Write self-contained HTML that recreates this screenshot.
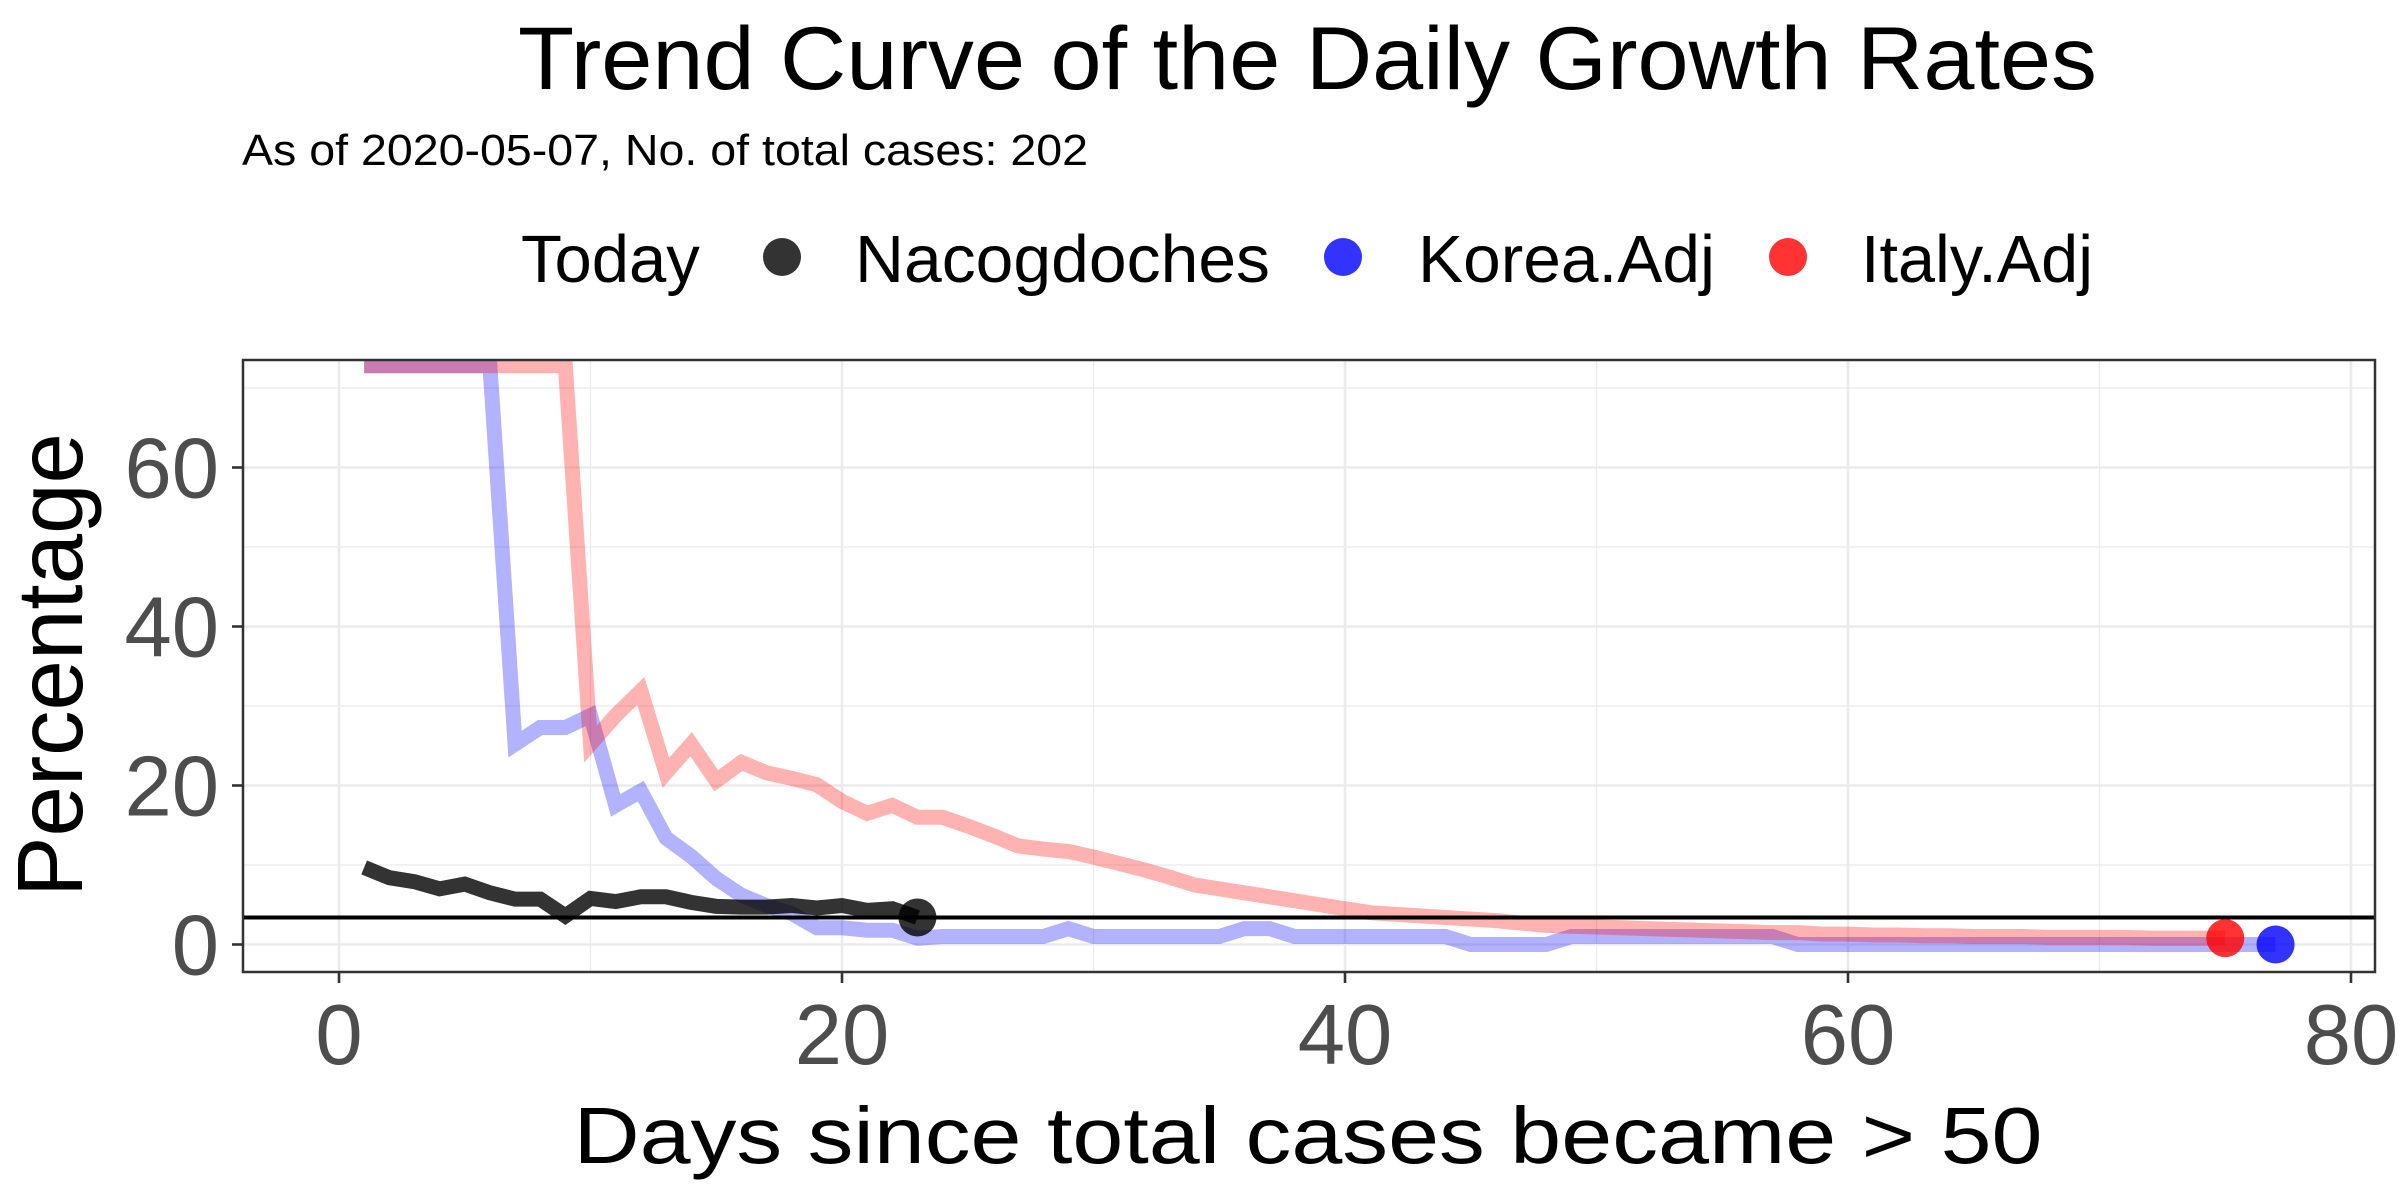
<!DOCTYPE html>
<html><head><meta charset="utf-8">
<style>
html,body{margin:0;padding:0;background:#fff;}
svg{display:block;font-family:"Liberation Sans",Arial,sans-serif;}
</style></head>
<body>
<svg id="chart" width="2400" height="1200" viewBox="0 0 2400 1200" xmlns="http://www.w3.org/2000/svg">
  <text x="518" y="89" font-size="89" textLength="1579" lengthAdjust="spacingAndGlyphs" fill="#000">Trend Curve of the Daily Growth Rates</text>
  <text x="242" y="165" font-size="44" textLength="846" lengthAdjust="spacingAndGlyphs" fill="#000">As of 2020-05-07, No. of total cases: 202</text>
  <g>
    <text x="521" y="282" font-size="67" fill="#000">Today</text>
    <g>
      <circle cx="782" cy="257" r="19" fill="#000" fill-opacity="0.8"/>
      <text x="855" y="282" font-size="67" textLength="415" lengthAdjust="spacingAndGlyphs">Nacogdoches</text>
    </g>
    <g>
      <circle cx="1343" cy="257" r="19" fill="#0000ff" fill-opacity="0.8"/>
      <text x="1418" y="282" font-size="67" textLength="297" lengthAdjust="spacingAndGlyphs">Korea.Adj</text>
    </g>
    <g>
      <circle cx="1788" cy="257" r="19" fill="#ff0000" fill-opacity="0.8"/>
      <text x="1861" y="282" font-size="67" textLength="232" lengthAdjust="spacingAndGlyphs">Italy.Adj</text>
    </g>
  </g>
  <defs><clipPath id="pclip"><rect x="243" y="360" width="2132" height="612"/></clipPath></defs>
  <g id="grid"></g>
  <g id="series" clip-path="url(#pclip)"></g>
  <rect x="243" y="360" width="2132" height="612" fill="none" stroke="#333" stroke-width="2.5"/>
  <g id="axes"></g>
  <text x="1308" y="1163" font-size="80" text-anchor="middle" textLength="1469" lengthAdjust="spacingAndGlyphs">Days since total cases became &gt; 50</text>
  <text x="0" y="0" font-size="93" text-anchor="middle" transform="translate(82,665) rotate(-90)" textLength="464" lengthAdjust="spacingAndGlyphs">Percentage</text>
</svg>
<script>
const xTicks = [0, 20, 40, 60, 80];
const xMinor = [10, 30, 50, 70];
const yTicks = [0, 20, 40, 60];
const yMinor = [10, 30, 50, 70];
const refValue = 3.4;
const nacDays = [1,2,3,4,5,6,7,8,9,10,11,12,13,14,15,16,17,18,19,20,21,22,23];
const nacValues = [9.7,8.4,7.9,7.0,7.6,6.5,5.7,5.7,3.6,5.8,5.4,6.0,6.0,5.3,4.8,4.7,4.7,4.9,4.6,4.9,4.3,4.5,3.4];
const koreaValues = [72.8,72.8,72.8,72.8,72.8,72.8,25.2,27.3,27.3,28.8,17.5,19.3,13.4,11.1,8.3,6.2,4.9,3.9,2.1,2.1,1.8,1.8,0.8,1,1,1,1,1,2,1,1,1,1,1,1,2,2,1,1,1,1,1,1,1,0,0,0,0,1,1,1,1,1,1,1,1,1,0,0,0,0,0,0,0,0,0,0,0,0,0,0,0,0,0,0,0,0];
const italyValues = [72.8,72.8,72.8,72.8,72.8,72.8,72.8,72.8,72.8,25.2,28.8,31.9,21.6,25.2,20.6,22.9,21.6,20.9,20.1,18.0,16.5,17.5,16.0,16.0,14.9,13.7,12.4,12.0,11.7,11.0,10.2,9.4,8.5,7.5,7.0,6.5,6.0,5.5,5.0,4.5,4.0,3.8,3.6,3.4,3.2,3.0,2.7,2.4,2.3,2.2,2.1,2.0,1.9,1.8,1.7,1.6,1.5,1.5,1.3,1.3,1.2,1.2,1.1,1.1,1.0,1.0,1.0,0.9,0.9,0.9,0.9,0.8,0.8,0.8,0.8];

const NS = 'http://www.w3.org/2000/svg';
const X = d => 339 + d * 25.15;
const Y = v => 944.5 - v * 7.95;
const PL = 243, PR = 2375, PT = 360, PB = 972;
function mk(tag, attrs, parent) {
  const e = document.createElementNS(NS, tag);
  for (const k in attrs) e.setAttribute(k, attrs[k]);
  parent.appendChild(e);
  return e;
}
const grid = document.getElementById('grid');
const axes = document.getElementById('axes');
const series = document.getElementById('series');

yMinor.forEach(v => {
  const l = mk('line', {x1: PL, x2: PR, y1: Y(v), y2: Y(v), stroke: '#ebebeb', 'stroke-width': 1.3}, grid);
  
  
});
xMinor.forEach(d => {
  const l = mk('line', {x1: X(d), x2: X(d), y1: PT, y2: PB, stroke: '#ebebeb', 'stroke-width': 1.3}, grid);
  
  
});
yTicks.forEach(v => {
  const l = mk('line', {x1: PL, x2: PR, y1: Y(v), y2: Y(v), stroke: '#ebebeb', 'stroke-width': 2.6}, grid);
  
  
  const t = mk('line', {x1: PL - 11, x2: PL, y1: Y(v), y2: Y(v), stroke: '#333', 'stroke-width': 2.6}, axes);
  
  
  const tx = mk('text', {x: 219, y: Y(v) + 30, 'font-size': 85, 'text-anchor': 'end', fill: '#4d4d4d'}, axes);
  tx.textContent = String(v);
  
  
});
xTicks.forEach(d => {
  const l = mk('line', {x1: X(d), x2: X(d), y1: PT, y2: PB, stroke: '#ebebeb', 'stroke-width': 2.6}, grid);
  
  
  const t = mk('line', {x1: X(d), x2: X(d), y1: PB, y2: PB + 11, stroke: '#333', 'stroke-width': 2.6}, axes);
  
  
  const tx = mk('text', {x: X(d), y: 1064, 'font-size': 85, 'text-anchor': 'middle', fill: '#4d4d4d'}, axes);
  tx.textContent = String(d);
  
  
});

function pts(days, vals) { return vals.map((v, i) => X(days[i]) + ',' + Y(v)).join(' '); }
const kDays = koreaValues.map((_, i) => i + 1);
const iDays = italyValues.map((_, i) => i + 1);

const kl = mk('polyline', {points: pts(kDays, koreaValues), fill: 'none', stroke: '#0000ff', 'stroke-opacity': 0.3, 'stroke-width': 15, 'stroke-linejoin': 'miter'}, series);


const il = mk('polyline', {points: pts(iDays, italyValues), fill: 'none', stroke: '#ff0000', 'stroke-opacity': 0.3, 'stroke-width': 15, 'stroke-linejoin': 'miter'}, series);


const nl = mk('polyline', {points: pts(nacDays, nacValues), fill: 'none', stroke: '#000', 'stroke-opacity': 0.8, 'stroke-width': 15, 'stroke-linejoin': 'miter'}, series);


const hl = mk('line', {x1: PL, x2: PR, y1: Y(refValue), y2: Y(refValue), stroke: '#000', 'stroke-width': 4}, series);



const nd = mk('circle', {cx: X(nacDays[nacDays.length - 1]), cy: Y(nacValues[nacValues.length - 1]), r: 19, fill: '#000', 'fill-opacity': 0.8}, series);


const idt = mk('circle', {cx: X(iDays[iDays.length - 1]), cy: Y(italyValues[italyValues.length - 1]), r: 19, fill: '#ff0000', 'fill-opacity': 0.8}, series);


const kd = mk('circle', {cx: X(kDays[kDays.length - 1]), cy: Y(koreaValues[koreaValues.length - 1]), r: 19, fill: '#0000ff', 'fill-opacity': 0.8}, series);


</script>
</body></html>
